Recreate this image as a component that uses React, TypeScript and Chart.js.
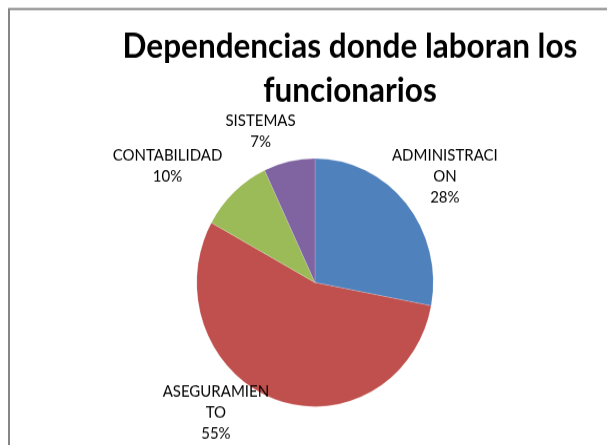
import { useEffect, useRef } from "react";
import { Chart, registerables } from "chart.js";

Chart.register(...registerables);

// ---- data ----
const CATEGORIES = ["ADMINISTRACION", "ASEGURAMIENTO", "CONTABILIDAD", "SISTEMAS"];
const PERCENTS = [28, 55, 10, 7];
const TITLE_LINES = ["Dependencias donde laboran los", "funcionarios"];

// ---- style / layout ----
const COLORS = ["#4F81BD", "#C0504D", "#9BBB59", "#8064A2"];
const PAGE_W = 607;
const PAGE_H = 445;
const CANVAS_H = 424;
const SCALE_Y = PAGE_H / CANVAS_H;
const FONT = "Lato, 'Open Sans', sans-serif";
const TITLE_SIZE = 31.5;
const TITLE_X = 350;
const TITLE_BASE = 54.5;
const TITLE_LINE_H = 42;
const LABEL_SIZE = 15;
const LABEL_LINE_H = 20;
const LABEL_MAX_W = 112;
const LABEL_NUDGE: [number, number][] = [
  [-2, -7],
  [-41, -16],
  [-29, -10],
  [-21, -9],
];

function wrapChars(ctx: CanvasRenderingContext2D, text: string, maxW: number): string[] {
  const out: string[] = [];
  let cur = "";
  for (const ch of text) {
    if (cur && ctx.measureText(cur + ch).width > maxW) {
      out.push(cur);
      cur = ch;
    } else cur += ch;
  }
  if (cur) out.push(cur);
  return out;
}

const decorPlugin = {
  id: "decor",
  beforeDraw(chart: any) {
    const ctx: CanvasRenderingContext2D = chart.ctx;
    ctx.save();
    ctx.fillStyle = "#ffffff";
    ctx.fillRect(0, 0, chart.width, chart.height);
    ctx.strokeStyle = "#868686";
    ctx.lineWidth = 2;
    ctx.strokeRect(9, 9 / SCALE_Y, chart.width + 40, chart.height + 40);
    ctx.fillStyle = "#000000";
    ctx.font = `bold ${TITLE_SIZE}px ${FONT}`;
    ctx.textAlign = "center";
    ctx.textBaseline = "alphabetic";
    TITLE_LINES.forEach((t, i) => ctx.fillText(t, TITLE_X, TITLE_BASE + i * TITLE_LINE_H));
    ctx.restore();
  },
  afterDatasetsDraw(chart: any) {
    const ctx: CanvasRenderingContext2D = chart.ctx;
    const meta = chart.getDatasetMeta(0);
    const values: number[] = chart.data.datasets[0].data;
    const labels: string[] = chart.data.labels;
    const total = values.reduce((a, b) => a + b, 0);
    ctx.save();
    ctx.font = `${LABEL_SIZE}px ${FONT}`;
    ctx.fillStyle = "#000000";
    ctx.textAlign = "center";
    ctx.textBaseline = "middle";
    meta.data.forEach((arc: any, i: number) => {
      const { x, y, startAngle, endAngle, outerRadius } = arc.getProps(
        ["x", "y", "startAngle", "endAngle", "outerRadius"],
        true
      );
      const mid = (startAngle + endAngle) / 2;
      const ux = Math.cos(mid);
      const uy = Math.sin(mid);
      const px = x + ux * outerRadius;
      const py = y + uy * outerRadius;
      const lines = [
        ...wrapChars(ctx, labels[i], LABEL_MAX_W),
        `${Math.round((values[i] / total) * 100)}%`,
      ];
      const w = Math.max(...lines.map((l) => ctx.measureText(l).width));
      const h = lines.length * LABEL_LINE_H;
      const cx = px + (ux * w) / 2 + LABEL_NUDGE[i][0];
      const cy = py + (uy * h) / 2 + LABEL_NUDGE[i][1];
      lines.forEach((l, k) => {
        ctx.fillText(l, cx, cy - h / 2 + LABEL_LINE_H * (k + 0.5));
      });
    });
    ctx.restore();
  },
};

export default function App() {
  const ref = useRef<HTMLCanvasElement>(null);
  useEffect(() => {
    let chart: Chart | null = null;
    let cancelled = false;
    const make = () => {
      if (cancelled || !ref.current) return;
      chart = new Chart(ref.current, {
        type: "pie",
        data: {
          labels: CATEGORIES,
          datasets: [
            {
              data: PERCENTS,
              backgroundColor: COLORS,
              borderColor: "rgba(255,255,255,0.35)",
              borderWidth: 0.5,
            },
          ],
        },
        options: {
          animation: false,
          responsive: false,
          maintainAspectRatio: false,
          devicePixelRatio: 1,
          layout: { padding: { left: 196.5, right: 173.5, top: 150.7, bottom: 36.3 } },
          plugins: {
            legend: { display: false },
            title: { display: false },
            tooltip: { enabled: false },
          },
        },
        plugins: [decorPlugin],
      });
    };
    const fonts: any = (document as any).fonts;
    if (fonts && fonts.load) {
      Promise.all([
        fonts.load(`bold ${TITLE_SIZE}px Lato`),
        fonts.load(`${LABEL_SIZE}px Lato`),
      ]).then(make, make);
    } else make();
    return () => {
      cancelled = true;
      if (chart) chart.destroy();
    };
  }, []);
  return (
    <div
      style={{
        position: "fixed",
        left: 0,
        top: 0,
        width: PAGE_W,
        height: CANVAS_H,
        transform: `scaleY(${SCALE_Y})`,
        transformOrigin: "0 0",
      }}
    >
      <canvas
        ref={ref}
        width={PAGE_W}
        height={CANVAS_H}
        style={{ display: "block", width: PAGE_W, height: CANVAS_H }}
      />
    </div>
  );
}
